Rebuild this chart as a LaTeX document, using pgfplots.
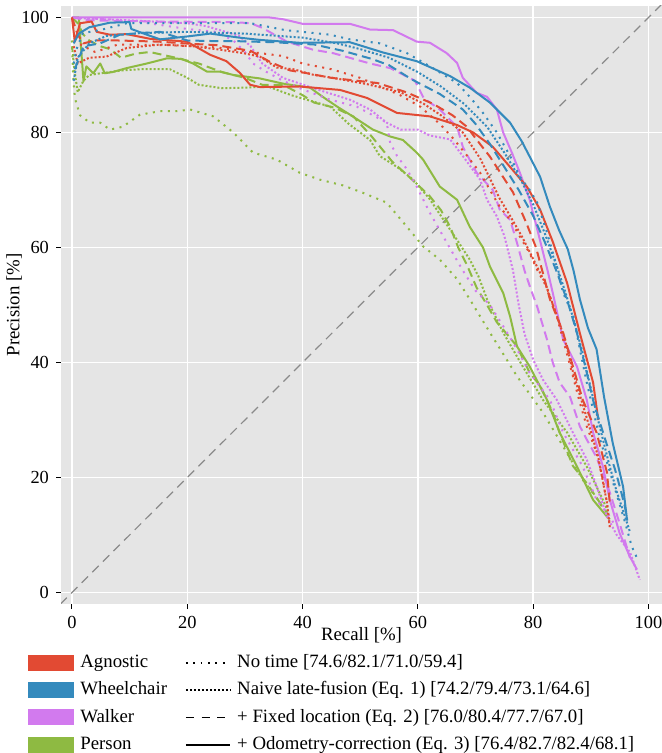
\documentclass[border=0pt]{standalone}
\usepackage{fontspec}
\setmainfont{Liberation Serif}
\usepackage{pgfplots}
\pgfplotsset{compat=1.18}

\definecolor{agn}{HTML}{E24A33}
\definecolor{whc}{HTML}{348ABD}
\definecolor{wlk}{HTML}{D27AEE}
\definecolor{per}{HTML}{8EBA42}
\definecolor{bg}{HTML}{E5E5E5}
\definecolor{diag}{HTML}{8A8A8A}

\tikzset{
 notime/.style={line width=1pt, dash pattern=on 1pt off 2.75pt},
 naive/.style={line width=1pt, dash pattern=on 1pt off 1pt},
 fixed/.style={line width=1pt, dash pattern=on 4.5pt off 2.5pt},
 odo/.style={line width=1pt, solid},
}

\begin{document}
\begin{tikzpicture}
\begin{axis}[
 scale only axis, width=300.5pt, height=299pt,
 xmin=-1.9, xmax=102.35, ymin=-2, ymax=102,
 axis background/.style={fill=bg},
 axis line style={draw=none},
 grid=major, major grid style={white, line width=0.7pt},
 xtick={0,20,...,100}, ytick={0,20,...,100},
 tick align=outside, xtick pos=left, ytick pos=left,
 major tick length=2.5pt,
 tick style={black, line width=0.5pt},
 tick label style={font=\fontsize{9.2}{11}\selectfont},
 /pgf/number format/assume math mode=true,
 xlabel={Recall [\%]}, ylabel={Precision [\%]},
 label style={font=\fontsize{9.4}{11}\selectfont},
 xlabel style={at={(axis description cs:0.5,-0.0518)}, anchor=center},
 ylabel style={at={(axis description cs:-0.0782,0.5)}, anchor=center},
 every axis plot/.append style={line join=round},
]
\addplot[forget plot, diag, line width=0.6pt, dash pattern=on 4.5pt off 3pt] coordinates {(-2,-2) (102.35,102.35)};

% ---------------- Person (green)
\addplot[forget plot, per, notime] coordinates {(0,96) (0.2,90) (0.5,86) (1.4,83) (3.1,81.7) (4.9,81.7) (6.6,80.5) (8.8,81) (11.8,83.1) (15.3,83.7) (18.2,83.7) (20.5,84) (24.5,82.8) (28,80) (31.4,76.5) (35.5,75.3) (39.5,73) (43,71.8) (47,70.8) (50.5,69.5) (54.6,67.8) (58.1,63.6) (60.9,60.2) (63.8,57.9) (66.8,54.5) (69,51) (72.5,45.2) (74.8,41.5) (77.2,37.6) (79.4,34.5) (81.7,31.3) (85.2,25.4) (88.6,19.6) (91,16.5) (92.1,14.5)};
\addplot[forget plot, per, naive] coordinates {(0,95) (0.4,91) (1,87) (2,89) (3,90) (5,90.3) (8.8,90.8) (12,91) (17,91) (20,89.5) (22,88.3) (26,87.7) (30,87.8) (34,88) (38,86.5) (44.8,84.5) (48,81.5) (51.7,78.7) (53.4,75.9) (56.4,74) (59.2,71.8) (62,68.5) (65,64) (67,61) (69,57.9) (70.5,55) (72,51) (74.8,45.2) (78.2,39.3) (81.7,33.5) (85.9,27.8) (89.3,21.9) (92.1,16.1) (93,14)};
\addplot[forget plot, per, fixed] coordinates {(0,100) (1,99) (2,97) (3,96) (4.9,95) (6.6,94.5) (8.5,93) (11,93.7) (13.5,94) (18,93) (22,92) (26,90.5) (30,89.5) (33,88.3) (36.6,88.3) (40,86.5) (42,85.2) (45.6,84.3) (48.8,82.8) (52,79.3) (55.5,75) (59,71.8) (62,69) (64,66.5) (65.6,63.6) (67,60) (68.5,57) (70.2,53) (72,50) (73.7,47) (75.4,45) (77.2,42.8) (79.4,38.2) (81.2,36) (83.4,31.3) (84.6,27.8) (86.9,22) (89.3,19) (92.8,13.8)};
\addplot[forget plot, per, odo] coordinates {(0.2,100) (1.2,100) (2,88.9) (2.5,91.5) (3.7,90.3) (4.9,92) (5.7,90.3) (7,90.5) (9.5,91.2) (13,92) (16.5,92.9) (19,92.8) (21,92) (23.4,90.6) (25.7,90.6) (28,90) (30.3,89.7) (32.6,89.4) (36.6,88.5) (41.3,87.8) (43.5,86.2) (46,84.5) (48.7,82.8) (52.2,80.5) (55.2,79.3) (57.4,78.7) (59.8,76.5) (60.9,75.3) (63.8,70.6) (66.8,68.3) (69,63.6) (71.3,60) (72.5,56.7) (74.8,52.1) (76,48) (77.2,42.8) (79.4,39.3) (82.4,33.5) (84.6,27.8) (87.6,21.9) (90.4,16.1) (92.8,13.2) (93.3,12.7)};

% ---------------- Walker (purple)
\addplot[forget plot, wlk, notime] coordinates {(0,100) (10,99.5) (20,98) (25,97.5) (28,96) (30,94) (31.4,92) (33.8,90.5) (36.6,89) (40,87.5) (44.8,85.7) (49.4,84.5) (54.6,81.7) (55.2,78.2) (56.4,75.9) (58.1,73.6) (59.8,70.6) (62.1,66) (63.8,63) (65.5,60) (67.8,56) (70,52.5) (72.5,50) (75,46) (77.2,42.3) (79.4,38.2) (82.9,33.5) (85.2,27.8) (88.6,21.9) (91,16.1) (93.3,13.2) (94,12)};
\addplot[forget plot, wlk, naive] coordinates {(0,100) (3,99.8) (10,99.5) (20,99) (23.3,98.5) (29,96.8) (31,95) (33,92) (36.6,89.5) (42.5,87.5) (48.2,85.7) (51.7,84) (54.6,81.7) (57,80.5) (60,80.5) (62,79.5) (65.6,78.8) (67.8,75.9) (70.8,71.8) (72,68.3) (73.7,65.4) (75,62) (76.5,56) (77.5,50) (78.5,45) (80,40.5) (81.7,37) (84.1,33.5) (86.9,27.8) (89.3,23.1) (91,18.5) (92.8,13.2) (94.5,10) (96.8,7) (98.5,2.2)};
\addplot[forget plot, wlk, fixed] coordinates {(0,100) (3,99.5) (15,99.3) (28,99.2) (31,99) (33,98.2) (37.3,95.8) (41.8,94.4) (45.3,93.8) (51.7,92) (55.2,91.2) (59.5,89) (61,86) (63.8,84) (66.8,81) (67.8,77.5) (70.2,73) (73,70) (74.2,66.6) (76,64.8) (77.2,60.8) (78.5,56) (79.5,53) (80.7,49.7) (82.4,44) (83.4,40) (84.6,36.5) (86.4,34) (88.1,28.9) (89.3,26.6) (91,23.5) (93.3,17.4) (95,12) (96.8,6)};
\addplot[forget plot, wlk, odo] coordinates {(0,100) (10,100) (20,100) (30,100) (34.3,100) (36.6,99.7) (40,98.9) (48.2,98.9) (51.7,97.9) (55.7,97.8) (59.8,95.8) (62.1,95.6) (65,93.8) (66.8,92.1) (67.8,89.5) (70.2,86.9) (72,86.2) (73.7,84) (74.8,80) (76.3,76.5) (77.7,73) (79.4,68.3) (80.5,64) (81.5,60) (82.5,56) (83.4,52.1) (85.2,44) (87.6,39.3) (89.3,33.5) (90.4,27.8) (92.1,21.9) (93.3,16.1) (95,10.3) (96.8,6.2) (98,4)};

% ---------------- Agnostic (red)
\addplot[forget plot, agn, notime] coordinates {(0.3,96) (2,95) (4,94) (8,95.3) (16.5,95.2) (25,94.8) (31,94) (36.6,93.3) (40,92) (45,91) (50,89.5) (56.9,86.5) (60.4,84.5) (63.8,81.5) (66.1,79) (68.5,76) (70.8,73) (72.5,70) (74.2,67.1) (76,64.8) (77.7,61.9) (79.4,59) (80.7,56.1) (82.4,53) (84.1,48) (85.2,44) (86.9,37.6) (88.1,33) (89.3,28.9) (91,24.3) (92,20) (92.8,15.6) (93.3,11.3)};
\addplot[forget plot, agn, naive] coordinates {(0.3,95) (1,92) (3,93) (6,93.2) (9.5,94.7) (15.3,95.3) (21,95) (25.7,94.4) (29.7,93.8) (32.6,93.2) (35.5,91.3) (38.4,91) (42,90) (45.3,89.5) (51.2,88.4) (57,87) (61,85) (64,83) (67.8,80) (70.8,75.5) (72.5,72) (74.2,68.5) (76,65.5) (78,62) (80,58) (82,54) (84,48.5) (85.5,44) (87,38) (88.5,33) (90,28) (91.3,23.5) (92.8,15.6) (93.3,11.3)};
\addplot[forget plot, agn, fixed] coordinates {(0,100) (1,97) (2,95.5) (4,96) (8,96) (15,95.8) (21,95.4) (25,95.2) (28,94.7) (31,94.2) (34.3,92.3) (37.8,90.8) (40.8,90.3) (45,89.5) (47.7,89.2) (53,88.6) (58,87) (62.6,85) (66,83) (68.5,81) (70,79) (72.5,75.8) (76.5,69.6) (78.8,64.3) (80.5,60) (82.9,51) (85.2,45.2) (86.9,39.3) (88.6,33.5) (91,27.8) (92.8,20.9) (93.3,15.5)};
\addplot[forget plot, agn, odo] coordinates {(0,100) (0.5,95.8) (1.4,99) (3.4,99.3) (4.3,97.5) (6.6,97) (9.5,97.1) (13.5,96.3) (19.9,95.8) (21,95.2) (24,93.5) (26.8,92.4) (29.1,90.4) (30.9,88.3) (32.6,87.9) (39.5,88) (46.5,87.4) (51.2,86) (56.4,83.4) (62.1,82.8) (66.8,81.3) (69.6,80) (73,77.5) (76,74) (78.9,70.6) (81.2,66.6) (83.4,61) (85.9,53.8) (88.1,45.1) (90.4,36.5) (91.3,30)};

% ---------------- Wheelchair (blue)
\addplot[forget plot, whc, notime] coordinates {(0.3,92) (0.8,94.5) (1.9,97.3) (4.9,97.8) (9.5,99) (17,99) (25,99) (31,99) (37,97.8) (44.8,97) (48.2,96.2) (53.4,95.5) (58.1,93.8) (62.1,91.5) (66.8,88.6) (69,86.2) (71.3,83.4) (73.7,80) (76,75.9) (77.7,72.3) (79.4,70) (80.7,67.8) (82.4,62.6) (84.1,56.7) (85.2,52.1) (87,48) (88.1,42.3) (89.3,36.5) (90.4,31.8) (91.5,27) (93,22) (94.5,17) (96,12) (97.1,8) (98.2,5.6)};
\addplot[forget plot, whc, naive] coordinates {(0.3,89) (1,93) (3,95.5) (6,96.8) (12,97.3) (20,97.5) (30,97.2) (40,96.5) (46,95.5) (50,94.5) (55,93) (60,90.5) (64,88) (68,85) (72,81) (75,76.5) (78,71.5) (80,67.5) (82,62.5) (84,57) (85.5,52.5) (87,47.5) (88.5,42) (90,35.5) (91.5,29) (93,23) (94.5,17.5) (96,13) (96.8,10.5)};
\addplot[forget plot, whc, fixed] coordinates {(0.5,91) (2,95) (4.9,95.5) (8.3,97) (12,97.3) (15.3,97.5) (20,96) (24.5,95.9) (28,95.9) (35,95.7) (42,95.3) (47,94.2) (52,92.8) (55,91.7) (59,89.2) (63.8,86.7) (67.8,84) (70,81.5) (72.5,78) (75,74) (77.5,70) (80,65.5) (82,61) (84,56) (86,50.5) (87.5,45.5) (89,39.5) (90.5,33) (92.5,26.6) (94.2,21.4) (95,18.5) (95.9,15) (96.3,12.7)};
\addplot[forget plot, whc, odo] coordinates {(0.3,95.5) (1.2,97.2) (3,98.3) (6.6,99.1) (10,99.2) (10.3,98) (13,97) (15.3,96.2) (20,96.7) (24,97.2) (29,96.5) (32.6,96.1) (39.5,95.6) (48.2,95.7) (54,93.9) (59.8,92.4) (65.6,89.8) (69,87.8) (72.5,85.2) (76,81.7) (78,78.5) (79.4,75.8) (81.2,72.3) (82.9,67.1) (84.5,63) (86,59.7) (87,56) (88.1,51) (89.5,46) (91,42.3) (92.3,34) (93.8,26) (94.2,24.3) (95.6,18.4) (96.3,12.5)};
\end{axis}

% ---------------- legend
\coordinate (sw) at (current axis.south west);
\begin{scope}[font=\fontsize{9.4}{11}\selectfont]
\fill[agn] ([xshift=-16.5pt,yshift=-33.5pt]sw) rectangle ([xshift=6.5pt,yshift=-25.5pt]sw);
\fill[whc] ([xshift=-16.5pt,yshift=-47.1pt]sw) rectangle ([xshift=6.5pt,yshift=-39.1pt]sw);
\fill[wlk] ([xshift=-16.5pt,yshift=-60.7pt]sw) rectangle ([xshift=6.5pt,yshift=-52.7pt]sw);
\fill[per] ([xshift=-16.5pt,yshift=-74.3pt]sw) rectangle ([xshift=6.5pt,yshift=-66.3pt]sw);
\node[anchor=base west, inner sep=0pt] at ([xshift=9.5pt,yshift=-31.85pt]sw) {Agnostic};
\node[anchor=base west, inner sep=0pt] at ([xshift=9.5pt,yshift=-45.45pt]sw) {Wheelchair};
\node[anchor=base west, inner sep=0pt] at ([xshift=9.5pt,yshift=-59.05pt]sw) {Walker};
\node[anchor=base west, inner sep=0pt] at ([xshift=9.5pt,yshift=-72.65pt]sw) {Person};
\draw[black, line width=0.9pt, dash pattern=on 0.9pt off 2.8pt] ([xshift=62.4pt,yshift=-29.5pt]sw) -- ([xshift=84.5pt,yshift=-29.5pt]sw);
\draw[black, line width=0.9pt, dash pattern=on 0.9pt off 1.1pt] ([xshift=62.4pt,yshift=-43.1pt]sw) -- ([xshift=84.5pt,yshift=-43.1pt]sw);
\draw[black, line width=0.9pt, dash pattern=on 4pt off 3.9pt] ([xshift=62.4pt,yshift=-56.7pt]sw) -- ([xshift=84.5pt,yshift=-56.7pt]sw);
\draw[black, line width=0.9pt] ([xshift=62.4pt,yshift=-70.3pt]sw) -- ([xshift=84.5pt,yshift=-70.3pt]sw);
\node[anchor=base west, inner sep=0pt] at ([xshift=87.9pt,yshift=-31.85pt]sw) {No time [74.6/82.1/71.0/59.4]};
\node[anchor=base west, inner sep=0pt] at ([xshift=87.9pt,yshift=-45.45pt]sw) {Naive late-fusion (Eq. 1) [74.2/79.4/73.1/64.6]};
\node[anchor=base west, inner sep=0pt] at ([xshift=87.9pt,yshift=-59.05pt]sw) {+ Fixed location (Eq. 2) [76.0/80.4/77.7/67.0]};
\node[anchor=base west, inner sep=0pt] at ([xshift=87.9pt,yshift=-72.65pt]sw) {+ Odometry-correction (Eq. 3) [76.4/82.7/82.4/68.1]};
\end{scope}
\pgfresetboundingbox
\path[use as bounding box] ([xshift=-30.5pt,yshift=-74.5pt]current axis.south west) rectangle ([yshift=3pt]current axis.north east);
\end{tikzpicture}
\end{document}
